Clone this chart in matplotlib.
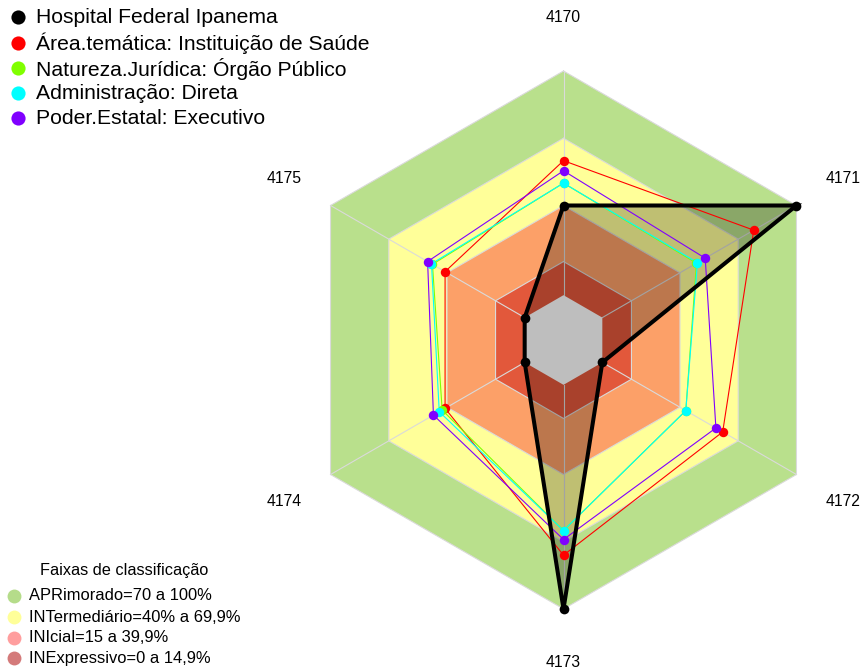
import numpy as np
import matplotlib
matplotlib.use("Agg")
import matplotlib.pyplot as plt
from matplotlib.patches import Polygon

plt.rcParams['font.family'] = ['Liberation Sans', 'DejaVu Sans']

# ---------------- data ----------------
categories = ['4170', '4171', '4172', '4173', '4174', '4175']
hospital = [40, 100, 0, 100, 0, 0]
area_tematica = [60, 78, 62, 76, 41, 41]
natureza_juridica = [50, 48.5, 43, 65, 42.5, 47.5]
administracao = [50, 49, 43, 65, 44, 48]
poder_estatal = [55.5, 53, 58.5, 69, 47, 50]

series_names = ['Hospital Federal Ipanema',
                'Área.temática: Instituição de Saúde',
                'Natureza.Jurídica: Órgão Público',
                'Administração: Direta',
                'Poder.Estatal: Executivo']

band_limits = [100, 70, 40, 15, 0]
band_labels = ['APRimorado=70 a 100%', 'INTermediário=40% a 69,9%',
               'INIcial=15 a 39,9%', 'INExpressivo=0 a 14,9%']
legend_title = 'Faixas de classificação'

# ---------------- styles ----------------
W, H, DPI = 863, 672, 100
CX, CY, RPX = 563.5, 340.0, 269.0   # centre and outer radius in pixels
GAP = 1.0 / 6.0                      # inner hole fraction

series_colors = ['#000000', '#FF0000', '#80FF00', '#00FFFF', '#8000FF']
band_colors = ['#B9E08C', '#FFFF99', '#FCA068', '#E2583B']
center_color = '#BEBEBE'
band_legend_colors = ['#B5DC8A', '#FFFF99', '#FF9E9E', '#D47A7A']

fig = plt.figure(figsize=(W / DPI, H / DPI), dpi=DPI)
ax = fig.add_axes([0, 0, 1, 1])
ax.set_xlim(-CX / RPX, (W - CX) / RPX)
ax.set_ylim(-(H - CY) / RPX, CY / RPX)
ax.axis('off')

n = len(categories)
angles = np.deg2rad(90 - 60 * np.arange(n))


def rad(v):
    return GAP + (1 - GAP) * np.asarray(v, dtype=float) / 100.0


def pts(values):
    r = rad(values)
    return np.column_stack([r * np.cos(angles), r * np.sin(angles)])


# background bands
for lim, col in zip(band_limits[:-1], band_colors):
    ax.add_patch(Polygon(pts([lim] * n), closed=True, facecolor=col,
                         edgecolor='none', zorder=1))

# grid
gridc = '#DADADA'
for lim in band_limits[:-1]:
    p = pts([lim] * n)
    p = np.vstack([p, p[:1]])
    ax.plot(p[:, 0], p[:, 1], color=gridc, lw=0.8, zorder=2)
inner = pts([0] * n)
outer = pts([100] * n)
for a, b in zip(inner, outer):
    ax.plot([a[0], b[0]], [a[1], b[1]], color=gridc, lw=0.8, zorder=2)

# hospital fill
p = pts(hospital)
ax.add_patch(Polygon(p, closed=True, facecolor=(0, 0, 0, 0.25),
                     edgecolor='none', zorder=2.5))

# centre hole (drawn above the fill)
ax.add_patch(Polygon(pts([0] * n), closed=True, facecolor=center_color,
                     edgecolor='none', zorder=2.6))

# series (thin coloured ones)
data = [hospital, area_tematica, natureza_juridica, administracao, poder_estatal]
for vals, col in zip(data[1:], series_colors[1:]):
    q = pts(vals)
    qc = np.vstack([q, q[:1]])
    ax.plot(qc[:, 0], qc[:, 1], color=col, lw=0.8, zorder=3)
    ax.plot(q[:, 0], q[:, 1], 'o', color=col, ms=6.8, mec='none', zorder=4)

pc = np.vstack([p, p[:1]])
ax.plot(pc[:, 0], pc[:, 1], color='black', lw=2.9, zorder=6,
        solid_joinstyle='miter')
ax.plot(p[:, 0], p[:, 1], 'o', color='black', ms=7, mec='none', zorder=7)

# axis labels
for lab, ang in zip(categories, angles):
    r = 1.2
    ax.text(r * np.cos(ang), r * np.sin(ang), lab, ha='center', va='center',
            fontsize=11.3, color='black', zorder=8)


def ftext(x, y, s, **kw):
    fig.text(x / W, 1 - y / H, s, **kw)


def fdot(x, y, col, ms):
    fig.add_artist(plt.Line2D([x / W], [1 - y / H], marker='o', color=col,
                              ms=ms, mec='none', transform=fig.transFigure))


# top-left legend
ys = [17, 43, 68, 93, 118]
for name, col, y in zip(series_names, series_colors, ys):
    fdot(18, y, col, 10.2)
    ftext(36, y + 0.5, name, ha='left', va='center', fontsize=15.2)

# bottom-left legend
ftext(124, 571, legend_title, ha='center', va='center', fontsize=11.7)
ys2 = [596, 617, 637.5, 658]
for lab, col, y in zip(band_labels, band_legend_colors, ys2):
    fdot(14, y, col, 10)
    ftext(29, y, lab, ha='left', va='center', fontsize=11.9)

fig.savefig('out.png', dpi=DPI)
